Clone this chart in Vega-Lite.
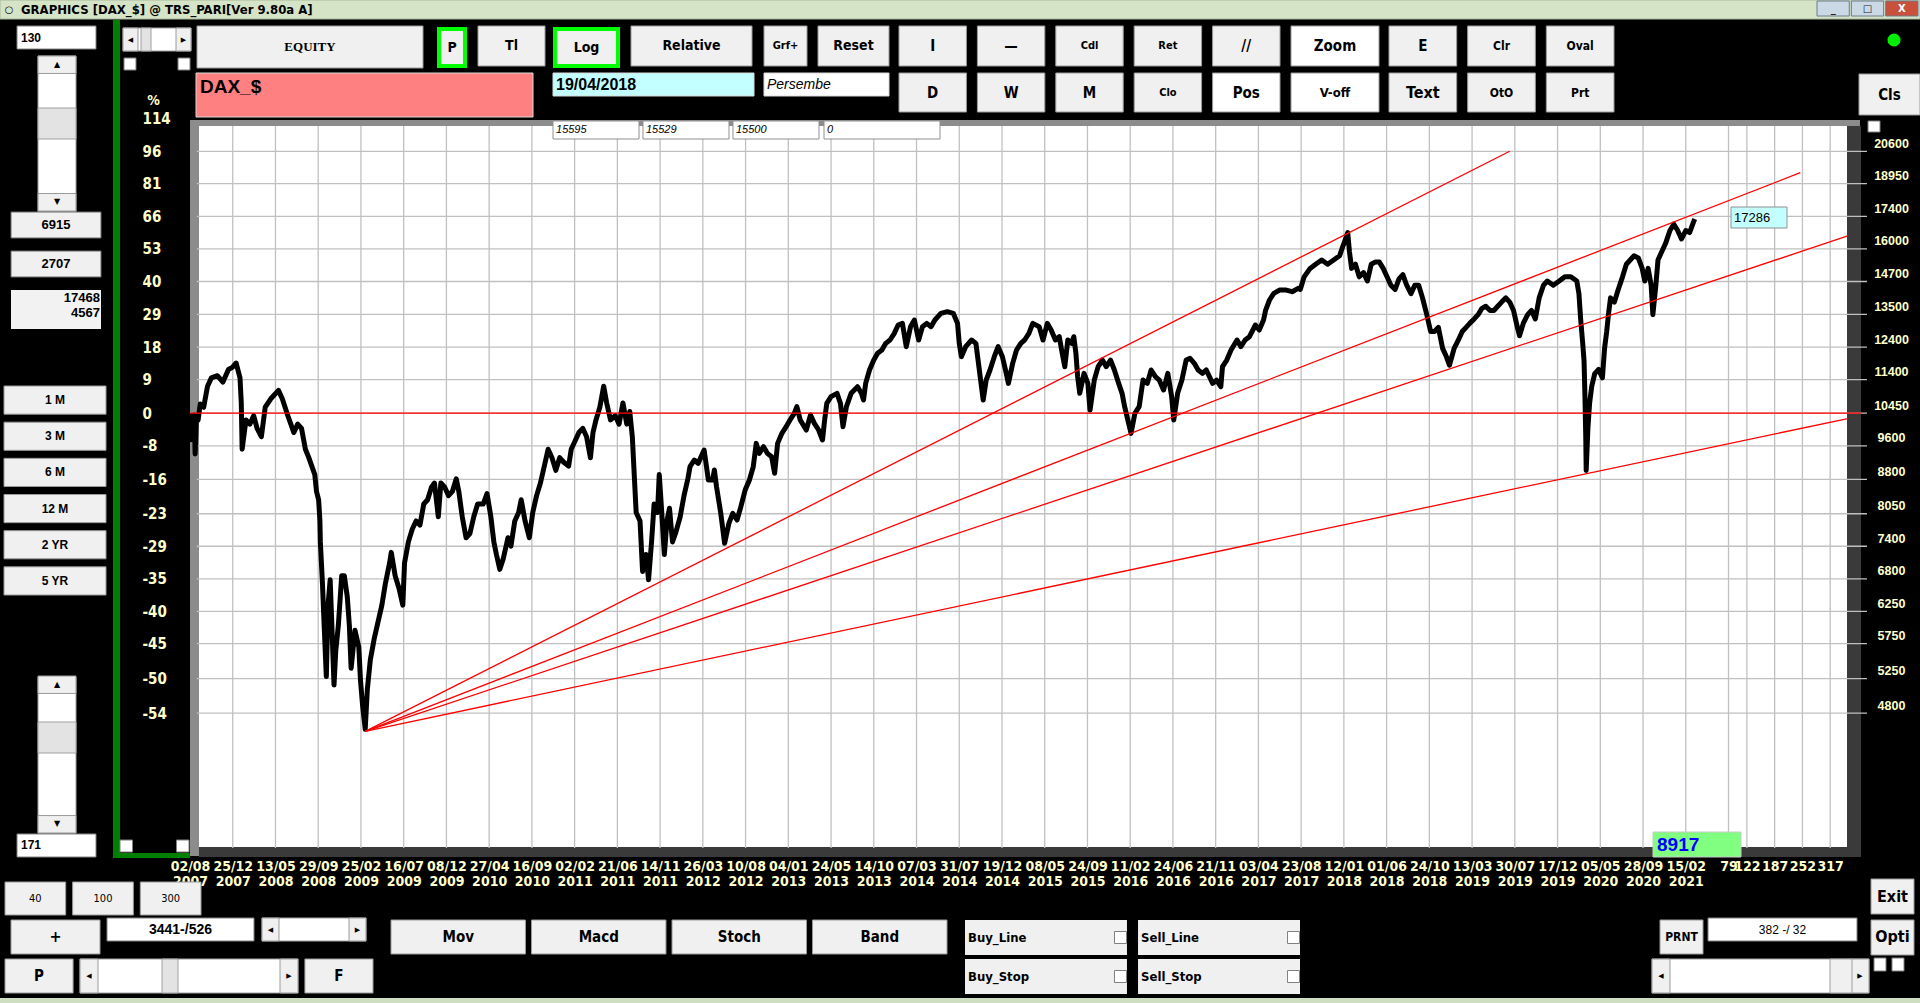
{
"$schema": "https://vega.github.io/schema/vega-lite/v6.json",
"width": 1920, "height": 1003, "autosize": "none", "padding": 0,
"background": "#000000",
"config": {
  "view": {"stroke": null},
  "rect": {"fill": "#f0f0f0", "stroke": "#9a9a9a", "strokeWidth": 1},
  "text": {"font": "Liberation Sans Narrow, Arial Narrow, DejaVu Sans Condensed, sans-serif", "fontWeight": "bold", "fontSize": 14, "color": "#000000"}
},
"resolve": {"scale": {"x": "independent", "y": "independent"}},
"datasets": {
  "series": [
    {"bar":0,"price":10450},{"bar":2,"price":9750},{"bar":4,"price":10250},{"bar":7,"price":9900},{"bar":10,"price":10400},{"bar":12,"price":9400},{"bar":15,"price":10300},{"bar":19,"price":10267},{"bar":24,"price":10700},{"bar":32,"price":10611},{"bar":41,"price":11205},{"bar":50,"price":11451},{"bar":64,"price":11514},{"bar":77,"price":11327},{"bar":90,"price":11703},{"bar":99,"price":11767},{"bar":108,"price":11899},{"bar":117,"price":11451},{"bar":120,"price":10728},{"bar":122,"price":9515},{"bar":131,"price":10267},{"bar":140,"price":10156},{"bar":149,"price":10380},{"bar":157,"price":10046},{"bar":167,"price":9830},{"bar":176,"price":10611},{"bar":189,"price":10845},{"bar":207,"price":11084},{"bar":216,"price":10845},{"bar":229,"price":10380},{"bar":243,"price":9937},{"bar":252,"price":10156},{"bar":261,"price":10046},{"bar":270,"price":9515},{"bar":278,"price":9310},{"bar":292,"price":8910},{"bar":296,"price":8530},{"bar":301,"price":8347},{"bar":304,"price":7902},{"bar":305,"price":7484},{"bar":310,"price":6710},{"bar":314,"price":6016},{"bar":319,"price":5278},{"bar":323,"price":6353},{"bar":328,"price":6783},{"bar":332,"price":6016},{"bar":337,"price":5164},{"bar":341,"price":5636},{"bar":347,"price":6016},{"bar":355,"price":6857},{"bar":361,"price":6857},{"bar":368,"price":6494},{"bar":373,"price":6016},{"bar":377,"price":5394},{"bar":386,"price":5951},{"bar":395,"price":5697},{"bar":399,"price":5220},{"bar":404,"price":4889},{"bar":410,"price":4605},{"bar":415,"price":5108},{"bar":422,"price":5513},{"bar":431,"price":5822},{"bar":440,"price":6082},{"bar":449,"price":6353},{"bar":457,"price":6710},{"bar":467,"price":7085},{"bar":471,"price":7283},{"bar":480,"price":6857},{"bar":489,"price":6637},{"bar":498,"price":6353},{"bar":502,"price":7085},{"bar":511,"price":7484},{"bar":520,"price":7732},{"bar":529,"price":7902},{"bar":538,"price":7817},{"bar":547,"price":8256},{"bar":556,"price":8347},{"bar":565,"price":8624},{"bar":572,"price":8718},{"bar":581,"price":7989},{"bar":587,"price":8718},{"bar":596,"price":8624},{"bar":605,"price":8438},{"bar":614,"price":8530},{"bar":623,"price":8814},{"bar":629,"price":8530},{"bar":637,"price":7989},{"bar":646,"price":7565},{"bar":655,"price":7648},{"bar":664,"price":7989},{"bar":673,"price":8256},{"bar":686,"price":8256},{"bar":695,"price":8484},{"bar":704,"price":7989},{"bar":711,"price":7484},{"bar":717,"price":7243},{"bar":725,"price":6970},{"bar":733,"price":7163},{"bar":744,"price":7565},{"bar":751,"price":7403},{"bar":760,"price":7902},{"bar":769,"price":8076},{"bar":775,"price":8347},{"bar":784,"price":7902},{"bar":794,"price":7565},{"bar":802,"price":8076},{"bar":811,"price":8438},{"bar":820,"price":8718},{"bar":829,"price":9107},{"bar":838,"price":9515},{"bar":847,"price":9310},{"bar":856,"price":9008},{"bar":865,"price":9310},{"bar":874,"price":9207},{"bar":886,"price":9107},{"bar":892,"price":9515},{"bar":901,"price":9723},{"bar":910,"price":9937},{"bar":919,"price":10046},{"bar":928,"price":9830},{"bar":937,"price":9310},{"bar":943,"price":9937},{"bar":950,"price":10267},{"bar":959,"price":10611},{"bar":968,"price":11205},{"bar":975,"price":10728},{"bar":984,"price":10267},{"bar":995,"price":10380},{"bar":1004,"price":10156},{"bar":1013,"price":10728},{"bar":1022,"price":10156},{"bar":1029,"price":10495},{"bar":1035,"price":9830},{"bar":1040,"price":8814},{"bar":1044,"price":8076},{"bar":1053,"price":7902},{"bar":1059,"price":6933},{"bar":1067,"price":7243},{"bar":1073,"price":6783},{"bar":1080,"price":7484},{"bar":1086,"price":8256},{"bar":1094,"price":8076},{"bar":1098,"price":8910},{"bar":1102,"price":8347},{"bar":1110,"price":7243},{"bar":1116,"price":7902},{"bar":1122,"price":8166},{"bar":1129,"price":7484},{"bar":1136,"price":7648},{"bar":1147,"price":7989},{"bar":1156,"price":8438},{"bar":1165,"price":8814},
    {"bar":1170,"price":9095},{"bar":1180,"price":9254},{"bar":1189,"price":9174},{"bar":1203,"price":9497},{"bar":1213,"price":8786},{"bar":1223,"price":8786},{"bar":1227,"price":9017},{"bar":1232,"price":8636},{"bar":1242,"price":8059},{"bar":1251,"price":7456},{"bar":1261,"price":7853},{"bar":1270,"price":8059},{"bar":1280,"price":7921},{"bar":1289,"price":8200},{"bar":1299,"price":8561},{"bar":1309,"price":8786},{"bar":1318,"price":9095},{"bar":1325,"price":9662},{"bar":1332,"price":9415},{"bar":1342,"price":9579},{"bar":1351,"price":9415},{"bar":1361,"price":9334},{"bar":1368,"price":8940},{"bar":1375,"price":9662},{"bar":1385,"price":9916},{"bar":1395,"price":10089},{"bar":1404,"price":10265},{"bar":1414,"price":10444},{"bar":1420,"price":10626},{"bar":1428,"price":10265},{"bar":1442,"price":10002},{"bar":1452,"price":10399},{"bar":1461,"price":10177},{"bar":1471,"price":10002},{"bar":1480,"price":9746},{"bar":1485,"price":10265},{"bar":1490,"price":10718},{"bar":1500,"price":10905},{"bar":1514,"price":11000},{"bar":1522,"price":10718},{"bar":1528,"price":10089},{"bar":1536,"price":10626},{"bar":1547,"price":11000},{"bar":1562,"price":11191},{"bar":1571,"price":11000},{"bar":1576,"price":10811},{"bar":1581,"price":11288},{"bar":1590,"price":11686},{"bar":1600,"price":11992},{"bar":1609,"price":12202},{"bar":1619,"price":12307},{"bar":1628,"price":12522},{"bar":1638,"price":12631},{"bar":1648,"price":12851},{"bar":1657,"price":13132},{"bar":1667,"price":13188},{"bar":1676,"price":12414},{"bar":1686,"price":13075},{"bar":1695,"price":13303},{"bar":1705,"price":12631},{"bar":1714,"price":13075},{"bar":1724,"price":13188},{"bar":1734,"price":13075},{"bar":1743,"price":13303},{"bar":1757,"price":13535},{"bar":1772,"price":13594},{"bar":1786,"price":13535},{"bar":1796,"price":13188},{"bar":1800,"price":12522},{"bar":1805,"price":12096},{"bar":1815,"price":12414},{"bar":1829,"price":12631},{"bar":1839,"price":12522},{"bar":1848,"price":11585},{"bar":1856,"price":10811},{"bar":1863,"price":11386},{"bar":1872,"price":11686},{"bar":1882,"price":12096},{"bar":1891,"price":12414},{"bar":1901,"price":12096},{"bar":1910,"price":11585},{"bar":1915,"price":11288},{"bar":1925,"price":11889},{"bar":1934,"price":12307},{"bar":1944,"price":12522},{"bar":1953,"price":12631},{"bar":1963,"price":12851},{"bar":1972,"price":13188},{"bar":1987,"price":13075},{"bar":1996,"price":12631},{"bar":2006,"price":13188},{"bar":2015,"price":12962},{"bar":2025,"price":12631},{"bar":2034,"price":12740},{"bar":2041,"price":12202},{"bar":2047,"price":11787},{"bar":2054,"price":12631},{"bar":2063,"price":12522},{"bar":2068,"price":12740},{"bar":2073,"price":12202},{"bar":2077,"price":11485},{"bar":2082,"price":11000},{"bar":2092,"price":11585},{"bar":2101,"price":11288},{"bar":2106,"price":10534},{"bar":2116,"price":11386},{"bar":2125,"price":11787},{"bar":2135,"price":11992},{"bar":2144,"price":11787},{"bar":2154,"price":11992},{"bar":2163,"price":11686},{"bar":2173,"price":11288},{"bar":2181,"price":11000},{"bar":2187,"price":10626},{"bar":2202,"price":9916},{"bar":2211,"price":10444},{"bar":2221,"price":10626},{"bar":2230,"price":11386},{"bar":2240,"price":11288},{"bar":2249,"price":11686},{"bar":2259,"price":11485},{"bar":2268,"price":11386},{"bar":2278,"price":11095},{"bar":2288,"price":11585},{"bar":2297,"price":10905},{"bar":2302,"price":10265},{"bar":2311,"price":11000},{"bar":2321,"price":11386},{"bar":2331,"price":11992},{"bar":2340,"price":12044},{"bar":2350,"price":11889},{"bar":2359,"price":11686},{"bar":2369,"price":11585},{"bar":2378,"price":11686},{"bar":2393,"price":11288},{"bar":2402,"price":11386},{"bar":2412,"price":11191},{"bar":2416,"price":11787},{"bar":2426,"price":11992},{"bar":2436,"price":12307},{"bar":2450,"price":12631},{"bar":2459,"price":12414},{"bar":2469,"price":12631},{"bar":2479,"price":12740},{"bar":2493,"price":13132},{"bar":2502,"price":12962},{"bar":2512,"price":13303},{"bar":2517,"price":13652},{"bar":2526,"price":14011},{"bar":2536,"price":14255},{"bar":2550,"price":14378},{"bar":2565,"price":14378},{"bar":2579,"price":14316},{"bar":2593,"price":14441},
    {"bar":2598,"price":14400},{"bar":2607,"price":14879},{"bar":2621,"price":15208},{"bar":2634,"price":15374},{"bar":2648,"price":15543},{"bar":2662,"price":15374},{"bar":2676,"price":15543},{"bar":2690,"price":15713},{"bar":2695,"price":15973},{"bar":2704,"price":16415},{"bar":2709,"price":16686},{"bar":2713,"price":15886},{"bar":2718,"price":15208},{"bar":2727,"price":15374},{"bar":2736,"price":14879},{"bar":2746,"price":15042},{"bar":2755,"price":14718},{"bar":2764,"price":15374},{"bar":2773,"price":15458},{"bar":2783,"price":15458},{"bar":2792,"price":15208},{"bar":2801,"price":14879},{"bar":2810,"price":14558},{"bar":2820,"price":14400},{"bar":2829,"price":14798},{"bar":2838,"price":14961},{"bar":2847,"price":14558},{"bar":2857,"price":14244},{"bar":2866,"price":14558},{"bar":2875,"price":14558},{"bar":2884,"price":14089},{"bar":2894,"price":13488},{"bar":2903,"price":12912},{"bar":2912,"price":12912},{"bar":2921,"price":13053},{"bar":2931,"price":12360},{"bar":2940,"price":12093},{"bar":2947,"price":11832},{"bar":2958,"price":12360},{"bar":2968,"price":12633},{"bar":2977,"price":12912},{"bar":2986,"price":13053},{"bar":2995,"price":13196},{"bar":3005,"price":13341},{"bar":3014,"price":13488},{"bar":3023,"price":13710},{"bar":3032,"price":13785},{"bar":3042,"price":13636},{"bar":3051,"price":13636},{"bar":3060,"price":13785},{"bar":3069,"price":13936},{"bar":3079,"price":14089},{"bar":3088,"price":13936},{"bar":3097,"price":13636},{"bar":3106,"price":13053},{"bar":3111,"price":12772},{"bar":3120,"price":13196},{"bar":3130,"price":13488},{"bar":3139,"price":13636},{"bar":3148,"price":13341},{"bar":3157,"price":14089},{"bar":3167,"price":14558},{"bar":3176,"price":14718},{"bar":3190,"price":14558},{"bar":3204,"price":14718},{"bar":3217,"price":14879},{"bar":3231,"price":14879},{"bar":3245,"price":14718},{"bar":3250,"price":14244},{"bar":3254,"price":13341},{"bar":3259,"price":12496},{"bar":3262,"price":11962},{"bar":3264,"price":10962},{"bar":3266,"price":9829},{"bar":3267,"price":9007},{"bar":3271,"price":10046},{"bar":3275,"price":10725},{"bar":3280,"price":11204},{"bar":3287,"price":11577},{"bar":3296,"price":11704},{"bar":3305,"price":11451},{"bar":3310,"price":12360},{"bar":3315,"price":12912},{"bar":3319,"price":13488},{"bar":3324,"price":14089},{"bar":3333,"price":13936},{"bar":3342,"price":14400},{"bar":3352,"price":14879},{"bar":3361,"price":15374},{"bar":3370,"price":15543},{"bar":3379,"price":15713},{"bar":3389,"price":15628},{"bar":3398,"price":15208},{"bar":3404,"price":14718},{"bar":3412,"price":15208},{"bar":3419,"price":14558},{"bar":3423,"price":13488},{"bar":3430,"price":14558},{"bar":3435,"price":15543},{"bar":3444,"price":15886},{"bar":3453,"price":16237},{"bar":3463,"price":16777},{"bar":3472,"price":17054},{"bar":3481,"price":16777},{"bar":3490,"price":16415},{"bar":3500,"price":16777},{"bar":3509,"price":16686},{"bar":3518,"price":17147},{"bar":3521,"price":17286}
  ],
  "trend": [
    {"line":"a","bar":410,"price":4580},{"line":"a","bar":3088,"price":20606},
    {"line":"b","bar":410,"price":4580},{"line":"b","bar":3768,"price":19489},
    {"line":"c","bar":410,"price":4580},{"line":"c","bar":3879,"price":16544},
    {"line":"d","bar":410,"price":4580},{"line":"d","bar":3879,"price":10304}
  ],
  "vgrid": [{"bar":100},{"bar":200},{"bar":300},{"bar":400},{"bar":500},{"bar":600},{"bar":700},{"bar":800},{"bar":900},{"bar":1000},{"bar":1100},{"bar":1200},{"bar":1300},{"bar":1400},{"bar":1500},{"bar":1600},{"bar":1700},{"bar":1800},{"bar":1900},{"bar":2000},{"bar":2100},{"bar":2200},{"bar":2300},{"bar":2400},{"bar":2500},{"bar":2600},{"bar":2700},{"bar":2800},{"bar":2900},{"bar":3000},{"bar":3100},{"bar":3200},{"bar":3300},{"bar":3400},{"bar":3500},{"bar":3600},{"bar":3643},{"bar":3708},{"bar":3773},{"bar":3838}],
  "hgrid": [{"price":4800},{"price":5250},{"price":5750},{"price":6250},{"price":6800},{"price":7400},{"price":8050},{"price":8800},{"price":9600},{"price":10450},{"price":11400},{"price":12400},{"price":13500},{"price":14700},{"price":16000},{"price":17400},{"price":18950},{"price":20600}]
},
"layer": [
  {"data":{"values":[{"label":"t"}]},"encoding":{"x":{"field":"label","type":"nominal","axis":null,"scale":{"type":"band","range":[0,1920],"paddingInner":0,"paddingOuter":0}},"y":{"datum":"r","type":"nominal","axis":null,"scale":{"type":"band","range":[0,19],"paddingInner":0,"paddingOuter":0}}},"mark":{"type":"rect","fill":"#d5e3c7","stroke":"#a9b99c"}},
  {"data":{"values":[{"label":"○"}]},"encoding":{"x":{"field":"label","type":"nominal","axis":null,"scale":{"type":"band","range":[9,9],"paddingInner":0,"paddingOuter":0}},"y":{"datum":"r","type":"nominal","axis":null,"scale":{"type":"band","range":[0,19],"paddingInner":0,"paddingOuter":0}},"text":{"field":"label"}},"mark":{"type":"text","font":"DejaVu Sans, sans-serif","fontWeight":"normal","fontSize":10}},
  {"data":{"values":[{"label":"GRAPHICS  [DAX_$] @ TRS_PARI[Ver 9.80a A]"}]},"encoding":{"x":{"field":"label","type":"nominal","axis":null,"scale":{"type":"band","range":[21,21],"paddingInner":0,"paddingOuter":0}},"y":{"datum":"r","type":"nominal","axis":null,"scale":{"type":"band","range":[0,20],"paddingInner":0,"paddingOuter":0}},"text":{"field":"label"}},"mark":{"type":"text","align":"left","fontSize":13}},
  {"data":{"values":[{"label":"_"},{"label":"□"},{"label":"X"}]},"encoding":{"x":{"field":"label","type":"nominal","sort":null,"axis":null,"scale":{"type":"band","range":[1817,1918],"paddingInner":0.06,"paddingOuter":0}},"y":{"datum":"r","type":"nominal","axis":null,"scale":{"type":"band","range":[1,16],"paddingInner":0,"paddingOuter":0}}},"layer":[{"mark":{"type":"rect","stroke":"#6d7c8c"},"encoding":{"fill":{"condition":{"test":"datum.label == 'X'","value":"#c8503c"},"value":"#cbd8e6"}}},{"mark":{"type":"text","font":"DejaVu Sans, sans-serif","fontSize":10},"encoding":{"text":{"field":"label"},"fill":{"condition":{"test":"datum.label == 'X'","value":"#ffffff"},"value":"#222222"}}}]},
  {"data":{"values":[{"label":"t"}]},"encoding":{"x":{"field":"label","type":"nominal","axis":null,"scale":{"type":"band","range":[0,1920],"paddingInner":0,"paddingOuter":0}},"y":{"datum":"r","type":"nominal","axis":null,"scale":{"type":"band","range":[998,1003],"paddingInner":0,"paddingOuter":0}}},"mark":{"type":"rect","fill":"#cddfc0","strokeWidth":0}},

  {"data":{"values":[{"label":"130"},{"label":"171"}]},"encoding":{"x":{"datum":"c","type":"nominal","axis":null,"scale":{"type":"band","range":[17,96],"paddingInner":0,"paddingOuter":0}},"y":{"field":"label","type":"nominal","sort":null,"axis":null,"scale":{"type":"band","range":[26,857],"paddingInner":0.9715,"paddingOuter":0}}},"layer":[{"mark":{"type":"rect","fill":"#ffffff","stroke":"#808080"}},{"mark":{"type":"text","align":"left","dx":-35.5,"fontSize":12,"font":"Liberation Sans, Arial, sans-serif"},"encoding":{"text":{"field":"label"}}}]},
  {"data":{"values":[{"label":"u"},{"label":"d"}]},"encoding":{"x":{"datum":"c","type":"nominal","axis":null,"scale":{"type":"band","range":[38,76],"paddingInner":0,"paddingOuter":0}},"y":{"field":"label","type":"nominal","sort":null,"axis":null,"scale":{"type":"band","range":[56,833],"paddingInner":0.749,"paddingOuter":0}}},"mark":{"type":"rect","fill":"#ffffff","stroke":"#a0a0a0"}},
  {"data":{"values":[{"label":"u"},{"label":"d"}]},"encoding":{"x":{"datum":"c","type":"nominal","axis":null,"scale":{"type":"band","range":[38,76],"paddingInner":0,"paddingOuter":0}},"y":{"field":"label","type":"nominal","sort":null,"axis":null,"scale":{"type":"band","range":[108,753],"paddingInner":0.9495,"paddingOuter":0}}},"mark":{"type":"rect","fill":"#e3e3e3","stroke":"#a0a0a0"}},
  {"data":{"values":[{"label":"▲"},{"label":"▼"}]},"encoding":{"x":{"datum":"c","type":"nominal","axis":null,"scale":{"type":"band","range":[38,76],"paddingInner":0,"paddingOuter":0}},"y":{"field":"label","type":"nominal","sort":null,"axis":null,"scale":{"type":"band","range":[56,211],"paddingInner":0.873,"paddingOuter":0}}},"layer":[{"mark":{"type":"rect"}},{"mark":{"type":"text","font":"DejaVu Sans, sans-serif","fontSize":8},"encoding":{"text":{"field":"label"}}}]},
  {"data":{"values":[{"label":"▲"},{"label":"▼"}]},"encoding":{"x":{"datum":"c","type":"nominal","axis":null,"scale":{"type":"band","range":[38,76],"paddingInner":0,"paddingOuter":0}},"y":{"field":"label","type":"nominal","sort":null,"axis":null,"scale":{"type":"band","range":[676,833],"paddingInner":0.875,"paddingOuter":0}}},"layer":[{"mark":{"type":"rect"}},{"mark":{"type":"text","font":"DejaVu Sans, sans-serif","fontSize":8},"encoding":{"text":{"field":"label"}}}]},
  {"data":{"values":[{"label":"6915"},{"label":"2707"}]},"encoding":{"x":{"datum":"c","type":"nominal","axis":null,"scale":{"type":"band","range":[11,101],"paddingInner":0,"paddingOuter":0}},"y":{"field":"label","type":"nominal","sort":null,"axis":null,"scale":{"type":"band","range":[212,277],"paddingInner":0.333,"paddingOuter":0}}},"layer":[{"mark":{"type":"rect","stroke":"#6a6a6a"}},{"mark":{"type":"text","font":"Liberation Sans, Arial, sans-serif","fontSize":13},"encoding":{"text":{"field":"label"}}}]},
  {"data":{"values":[{"label":"17468\n4567"}]},"encoding":{"x":{"field":"label","type":"nominal","axis":null,"scale":{"type":"band","range":[11,101],"paddingInner":0,"paddingOuter":0}},"y":{"datum":"r","type":"nominal","axis":null,"scale":{"type":"band","range":[290,329],"paddingInner":0,"paddingOuter":0}}},"layer":[{"mark":{"type":"rect","fill":"#f2f2f2","strokeWidth":0}},{"mark":{"type":"text","align":"right","dx":44,"dy":-12,"lineBreak":"\n","lineHeight":15,"font":"Liberation Sans, Arial, sans-serif","fontSize":13},"encoding":{"text":{"field":"label"}}}]},
  {"data":{"values":[{"label":"1 M"},{"label":"3 M"},{"label":"6 M"},{"label":"12 M"},{"label":"2 YR"},{"label":"5 YR"}]},"encoding":{"x":{"datum":"c","type":"nominal","axis":null,"scale":{"type":"band","range":[4,106],"paddingInner":0,"paddingOuter":0}},"y":{"field":"label","type":"nominal","sort":null,"axis":null,"scale":{"type":"band","range":[386,595],"paddingInner":0.222,"paddingOuter":0}}},"layer":[{"mark":{"type":"rect"}},{"mark":{"type":"text","font":"Liberation Sans, Arial, sans-serif","fontSize":12},"encoding":{"text":{"field":"label"}}}]},

  {"data":{"values":[{"label":"g"}]},"encoding":{"x":{"field":"label","type":"nominal","axis":null,"scale":{"type":"band","range":[113,120],"paddingInner":0,"paddingOuter":0}},"y":{"datum":"r","type":"nominal","axis":null,"scale":{"type":"band","range":[20,858],"paddingInner":0,"paddingOuter":0}}},"mark":{"type":"rect","fill":"#008000","strokeWidth":0}},
  {"data":{"values":[{"label":"g"}]},"encoding":{"x":{"field":"label","type":"nominal","axis":null,"scale":{"type":"band","range":[113,190],"paddingInner":0,"paddingOuter":0}},"y":{"datum":"r","type":"nominal","axis":null,"scale":{"type":"band","range":[853,858],"paddingInner":0,"paddingOuter":0}}},"mark":{"type":"rect","fill":"#008000","strokeWidth":0}},
  {"data":{"values":[{"label":"s"}]},"encoding":{"x":{"field":"label","type":"nominal","axis":null,"scale":{"type":"band","range":[123,191],"paddingInner":0,"paddingOuter":0}},"y":{"datum":"r","type":"nominal","axis":null,"scale":{"type":"band","range":[28,51],"paddingInner":0,"paddingOuter":0}}},"mark":{"type":"rect","fill":"#ffffff","stroke":"#a0a0a0"}},
  {"data":{"values":[{"label":"◀"},{"label":"▶"}]},"encoding":{"x":{"field":"label","type":"nominal","sort":null,"axis":null,"scale":{"type":"band","range":[123,191],"paddingInner":0.717,"paddingOuter":0}},"y":{"datum":"r","type":"nominal","axis":null,"scale":{"type":"band","range":[28,51],"paddingInner":0,"paddingOuter":0}}},"layer":[{"mark":{"type":"rect"}},{"mark":{"type":"text","font":"DejaVu Sans, sans-serif","fontSize":7},"encoding":{"text":{"field":"label"}}}]},
  {"data":{"values":[{"label":"s"}]},"encoding":{"x":{"field":"label","type":"nominal","axis":null,"scale":{"type":"band","range":[141,151],"paddingInner":0,"paddingOuter":0}},"y":{"datum":"r","type":"nominal","axis":null,"scale":{"type":"band","range":[28,51],"paddingInner":0,"paddingOuter":0}}},"mark":{"type":"rect","fill":"#e3e3e3","stroke":"#a0a0a0"}},
  {"data":{"values":[{"label":"a"},{"label":"b"}]},"encoding":{"x":{"field":"label","type":"nominal","sort":null,"axis":null,"scale":{"type":"band","range":[124,190],"paddingInner":0.778,"paddingOuter":0}},"y":{"datum":"r","type":"nominal","axis":null,"scale":{"type":"band","range":[58,70],"paddingInner":0,"paddingOuter":0}}},"mark":{"type":"rect","fill":"#ffffff","stroke":"#808080"}},
  {"data":{"values":[{"label":"a"},{"label":"b"}]},"encoding":{"x":{"field":"label","type":"nominal","sort":null,"axis":null,"scale":{"type":"band","range":[120,189],"paddingInner":0.779,"paddingOuter":0}},"y":{"datum":"r","type":"nominal","axis":null,"scale":{"type":"band","range":[840,852],"paddingInner":0,"paddingOuter":0}}},"mark":{"type":"rect","fill":"#ffffff","stroke":"#808080"}},

  {"data":{"values":[{"label":"EQUITY"}]},"encoding":{"x":{"field":"label","type":"nominal","axis":null,"scale":{"type":"band","range":[197,423],"paddingInner":0,"paddingOuter":0}},"y":{"datum":"r","type":"nominal","axis":null,"scale":{"type":"band","range":[26,68],"paddingInner":0,"paddingOuter":0}}},"layer":[{"mark":{"type":"rect"}},{"mark":{"type":"text","font":"Liberation Serif, Times New Roman, serif","fontSize":13},"encoding":{"text":{"field":"label"}}}]},
  {"data":{"values":[{"label":"P"}]},"encoding":{"x":{"field":"label","type":"nominal","axis":null,"scale":{"type":"band","range":[439,465],"paddingInner":0,"paddingOuter":0}},"y":{"datum":"r","type":"nominal","axis":null,"scale":{"type":"band","range":[29,66],"paddingInner":0,"paddingOuter":0}}},"layer":[{"mark":{"type":"rect","stroke":"#00ff00","strokeWidth":4}},{"mark":{"type":"text"},"encoding":{"text":{"field":"label"}}}]},
  {"data":{"values":[{"label":"Tl"}]},"encoding":{"x":{"field":"label","type":"nominal","axis":null,"scale":{"type":"band","range":[478,545],"paddingInner":0,"paddingOuter":0}},"y":{"datum":"r","type":"nominal","axis":null,"scale":{"type":"band","range":[26,66],"paddingInner":0,"paddingOuter":0}}},"layer":[{"mark":{"type":"rect"}},{"mark":{"type":"text"},"encoding":{"text":{"field":"label"}}}]},
  {"data":{"values":[{"label":"Log"}]},"encoding":{"x":{"field":"label","type":"nominal","axis":null,"scale":{"type":"band","range":[555,618],"paddingInner":0,"paddingOuter":0}},"y":{"datum":"r","type":"nominal","axis":null,"scale":{"type":"band","range":[29,66],"paddingInner":0,"paddingOuter":0}}},"layer":[{"mark":{"type":"rect","stroke":"#00ff00","strokeWidth":4}},{"mark":{"type":"text"},"encoding":{"text":{"field":"label"}}}]},
  {"data":{"values":[{"label":"Relative"}]},"encoding":{"x":{"field":"label","type":"nominal","axis":null,"scale":{"type":"band","range":[631,752],"paddingInner":0,"paddingOuter":0}},"y":{"datum":"r","type":"nominal","axis":null,"scale":{"type":"band","range":[26,66],"paddingInner":0,"paddingOuter":0}}},"layer":[{"mark":{"type":"rect"}},{"mark":{"type":"text"},"encoding":{"text":{"field":"label"}}}]},
  {"data":{"values":[{"label":"Grf+"}]},"encoding":{"x":{"field":"label","type":"nominal","axis":null,"scale":{"type":"band","range":[764,807],"paddingInner":0,"paddingOuter":0}},"y":{"datum":"r","type":"nominal","axis":null,"scale":{"type":"band","range":[26,66],"paddingInner":0,"paddingOuter":0}}},"layer":[{"mark":{"type":"rect"}},{"mark":{"type":"text","fontSize":11},"encoding":{"text":{"field":"label"}}}]},
  {"data":{"values":[{"label":"Reset"}]},"encoding":{"x":{"field":"label","type":"nominal","axis":null,"scale":{"type":"band","range":[818,889],"paddingInner":0,"paddingOuter":0}},"y":{"datum":"r","type":"nominal","axis":null,"scale":{"type":"band","range":[26,66],"paddingInner":0,"paddingOuter":0}}},"layer":[{"mark":{"type":"rect"}},{"mark":{"type":"text"},"encoding":{"text":{"field":"label"}}}]},
  {"data":{"values":[{"label":"I"},{"label":"—"},{"label":"Cdl"},{"label":"Ret"},{"label":"//"}]},"encoding":{"x":{"field":"label","type":"nominal","sort":null,"axis":null,"scale":{"type":"band","range":[899,1280],"paddingInner":0.14,"paddingOuter":0}},"y":{"datum":"r","type":"nominal","axis":null,"scale":{"type":"band","range":[26,66],"paddingInner":0,"paddingOuter":0}}},"layer":[{"mark":{"type":"rect"}},{"mark":{"type":"text"},"encoding":{"text":{"field":"label"},"size":{"condition":{"test":"datum.label == 'Cdl' || datum.label == 'Ret'","value":11},"value":15}}}]},
  {"data":{"values":[{"label":"Zoom"}]},"encoding":{"x":{"field":"label","type":"nominal","axis":null,"scale":{"type":"band","range":[1291,1379],"paddingInner":0,"paddingOuter":0}},"y":{"datum":"r","type":"nominal","axis":null,"scale":{"type":"band","range":[26,66],"paddingInner":0,"paddingOuter":0}}},"layer":[{"mark":{"type":"rect","fill":"#ffffff"}},{"mark":{"type":"text","fontSize":15},"encoding":{"text":{"field":"label"}}}]},
  {"data":{"values":[{"label":"E"},{"label":"Clr"},{"label":"Oval"}]},"encoding":{"x":{"field":"label","type":"nominal","sort":null,"axis":null,"scale":{"type":"band","range":[1389,1614],"paddingInner":0.14,"paddingOuter":0}},"y":{"datum":"r","type":"nominal","axis":null,"scale":{"type":"band","range":[26,66],"paddingInner":0,"paddingOuter":0}}},"layer":[{"mark":{"type":"rect"}},{"mark":{"type":"text"},"encoding":{"text":{"field":"label"},"size":{"condition":{"test":"datum.label == 'E'","value":15},"value":12}}}]},
  {"data":{"values":[{"label":"D"},{"label":"W"},{"label":"M"},{"label":"Clo"},{"label":"Pos"}]},"encoding":{"x":{"field":"label","type":"nominal","sort":null,"axis":null,"scale":{"type":"band","range":[899,1280],"paddingInner":0.14,"paddingOuter":0}},"y":{"datum":"r","type":"nominal","axis":null,"scale":{"type":"band","range":[73,112],"paddingInner":0,"paddingOuter":0}}},"layer":[{"mark":{"type":"rect"},"encoding":{"fill":{"condition":{"test":"datum.label == 'Pos'","value":"#ffffff"},"value":"#f0f0f0"}}},{"mark":{"type":"text"},"encoding":{"text":{"field":"label"},"size":{"condition":{"test":"datum.label == 'Clo'","value":11},"value":15}}}]},
  {"data":{"values":[{"label":"V-off"}]},"encoding":{"x":{"field":"label","type":"nominal","axis":null,"scale":{"type":"band","range":[1291,1379],"paddingInner":0,"paddingOuter":0}},"y":{"datum":"r","type":"nominal","axis":null,"scale":{"type":"band","range":[73,112],"paddingInner":0,"paddingOuter":0}}},"layer":[{"mark":{"type":"rect","fill":"#ffffff"}},{"mark":{"type":"text","fontSize":13},"encoding":{"text":{"field":"label"}}}]},
  {"data":{"values":[{"label":"Text"},{"label":"OtO"},{"label":"Prt"}]},"encoding":{"x":{"field":"label","type":"nominal","sort":null,"axis":null,"scale":{"type":"band","range":[1389,1614],"paddingInner":0.14,"paddingOuter":0}},"y":{"datum":"r","type":"nominal","axis":null,"scale":{"type":"band","range":[73,112],"paddingInner":0,"paddingOuter":0}}},"layer":[{"mark":{"type":"rect"}},{"mark":{"type":"text"},"encoding":{"text":{"field":"label"},"size":{"condition":{"test":"datum.label == 'Text'","value":16},"value":12}}}]},
  {"data":{"values":[{"label":"DAX_$"}]},"encoding":{"x":{"field":"label","type":"nominal","axis":null,"scale":{"type":"band","range":[196,533],"paddingInner":0,"paddingOuter":0}},"y":{"datum":"r","type":"nominal","axis":null,"scale":{"type":"band","range":[73,117],"paddingInner":0,"paddingOuter":0}}},"layer":[{"mark":{"type":"rect","fill":"#ff8080","stroke":"#d8d8d8"}},{"mark":{"type":"text","align":"left","dx":-164.5,"dy":-8,"font":"Liberation Sans, Arial, sans-serif","fontSize":19},"encoding":{"text":{"field":"label"}}}]},
  {"data":{"values":[{"label":"19/04/2018"}]},"encoding":{"x":{"field":"label","type":"nominal","axis":null,"scale":{"type":"band","range":[553,754],"paddingInner":0,"paddingOuter":0}},"y":{"datum":"r","type":"nominal","axis":null,"scale":{"type":"band","range":[73,96],"paddingInner":0,"paddingOuter":0}}},"layer":[{"mark":{"type":"rect","fill":"#c4ffff","stroke":"#d8d8d8"}},{"mark":{"type":"text","align":"left","dx":-97.5,"font":"Liberation Sans, Arial, sans-serif","fontSize":16},"encoding":{"text":{"field":"label"}}}]},
  {"data":{"values":[{"label":"Persembe"}]},"encoding":{"x":{"field":"label","type":"nominal","axis":null,"scale":{"type":"band","range":[764,889],"paddingInner":0,"paddingOuter":0}},"y":{"datum":"r","type":"nominal","axis":null,"scale":{"type":"band","range":[73,96],"paddingInner":0,"paddingOuter":0}}},"layer":[{"mark":{"type":"rect","fill":"#ffffff","stroke":"#d8d8d8"}},{"mark":{"type":"text","align":"left","dx":-59.5,"font":"Liberation Sans, Arial, sans-serif","fontStyle":"italic","fontWeight":"normal","fontSize":14},"encoding":{"text":{"field":"label"}}}]},
  {"data":{"values":[{"label":"Cls"}]},"encoding":{"x":{"field":"label","type":"nominal","axis":null,"scale":{"type":"band","range":[1859,1920],"paddingInner":0,"paddingOuter":0}},"y":{"datum":"r","type":"nominal","axis":null,"scale":{"type":"band","range":[74,115],"paddingInner":0,"paddingOuter":0}}},"layer":[{"mark":{"type":"rect"}},{"mark":{"type":"text","fontSize":15},"encoding":{"text":{"field":"label"}}}]},
  {"data":{"values":[{"label":"on"}]},"encoding":{"x":{"field":"label","type":"nominal","axis":null,"scale":{"type":"band","range":[1887,1901],"paddingInner":0,"paddingOuter":0}},"y":{"datum":"r","type":"nominal","axis":null,"scale":{"type":"band","range":[31,49],"paddingInner":0,"paddingOuter":0}}},"mark":{"type":"point","shape":"circle","filled":true,"color":"#00ee00","opacity":1,"size":170}},
  {"data":{"values":[{"label":"c"}]},"encoding":{"x":{"field":"label","type":"nominal","axis":null,"scale":{"type":"band","range":[1868,1880],"paddingInner":0,"paddingOuter":0}},"y":{"datum":"r","type":"nominal","axis":null,"scale":{"type":"band","range":[121,132],"paddingInner":0,"paddingOuter":0}}},"mark":{"type":"rect","fill":"#ffffff","stroke":"#808080"}},

  {"data":{"values":[{"label":"f"}]},"encoding":{"x":{"field":"label","type":"nominal","axis":null,"scale":{"type":"band","range":[190,1860],"paddingInner":0,"paddingOuter":0}},"y":{"datum":"r","type":"nominal","axis":null,"scale":{"type":"band","range":[120,856],"paddingInner":0,"paddingOuter":0}}},"mark":{"type":"rect","fill":"#8c8c8c","strokeWidth":0}},
  {"data":{"values":[{"label":"f"}]},"encoding":{"x":{"field":"label","type":"nominal","axis":null,"scale":{"type":"band","range":[199,1861],"paddingInner":0,"paddingOuter":0}},"y":{"datum":"r","type":"nominal","axis":null,"scale":{"type":"band","range":[126,857],"paddingInner":0,"paddingOuter":0}}},"mark":{"type":"rect","fill":"#3a3a3a","strokeWidth":0}},
  {"data":{"values":[{"label":"f"}]},"encoding":{"x":{"field":"label","type":"nominal","axis":null,"scale":{"type":"band","range":[199,1847],"paddingInner":0,"paddingOuter":0}},"y":{"datum":"r","type":"nominal","axis":null,"scale":{"type":"band","range":[126,847],"paddingInner":0,"paddingOuter":0}}},"mark":{"type":"rect","fill":"#ffffff","strokeWidth":0}},

  {"data":{"name":"hgrid"},"mark":{"type":"rule","color":"#c0c0c0","strokeWidth":1.3},
   "encoding":{
     "y":{"field":"price","type":"quantitative","scale":{"type":"log","domain":[3340,22500],"range":[853.1,117.3],"nice":false},
          "axis":{"orient":"right","offset":-65,"values":[4800,5250,5750,6250,6800,7400,8050,8800,9600,10450,11400,12400,13500,14700,16000,17400,18950,20600],"labelExpr":"format(datum.value, 'd')","grid":false,"ticks":false,"tickSize":0,"domain":false,"title":null,"labelAlign":"center","labelPadding":36,"labelBaseline":"alphabetic","labelOffset":-4,"labelFont":"Liberation Sans, Arial, sans-serif","labelFontSize":12.5,"labelFontWeight":"bold","labelColor":"#ffffcc","labelOverlap":false,"labelBound":false}},
     "x":{"datum":16,"type":"quantitative","scale":{"type":"linear","domain":[0,3896],"range":[190,1855],"nice":false,"zero":false},"axis":null},
     "x2":{"datum":3924}}},
  {"data":{"name":"vgrid"},"mark":{"type":"rule","color":"#c0c0c0","strokeWidth":1.3},
   "encoding":{
     "x":{"field":"bar","type":"quantitative","scale":{"type":"linear","domain":[0,3896],"range":[190,1855],"nice":false,"zero":false},
          "axis":{"orient":"bottom","offset":-150,"values":[0,100,200,300,400,500,600,700,800,900,1000,1100,1200,1300,1400,1500,1600,1700,1800,1900,2000,2100,2200,2300,2400,2500,2600,2700,2800,2900,3000,3100,3200,3300,3400,3500,3600,3643,3708,3773,3838],
                  "labelExpr":"datum.value <= 3500 ? [['02/08','25/12','13/05','29/09','25/02','16/07','08/12','27/04','16/09','02/02','21/06','14/11','26/03','10/08','04/01','24/05','14/10','07/03','31/07','19/12','08/05','24/09','11/02','24/06','21/11','03/04','23/08','12/01','01/06','24/10','13/03','30/07','17/12','05/05','28/09','15/02'][round(datum.value/100)], ['2007','2007','2008','2008','2009','2009','2009','2010','2010','2011','2011','2011','2012','2012','2013','2013','2013','2014','2014','2014','2015','2015','2016','2016','2016','2017','2017','2018','2018','2018','2019','2019','2019','2020','2020','2021'][round(datum.value/100)]] : '' + (datum.value - 3521)",
                  "grid":false,"ticks":false,"tickSize":0,"domain":false,"title":null,"labelFont":"Liberation Sans Narrow, Arial Narrow, DejaVu Sans Condensed, sans-serif","labelFontSize":14,"labelFontWeight":"bold","labelColor":"#ffffcc","labelPadding":6,"labelBaseline":"top","labelLineHeight":15.5,"labelOverlap":false,"labelFlush":false,"labelBound":false}},
     "y":{"datum":22000,"type":"quantitative","scale":{"type":"log","domain":[3340,22500],"range":[853.1,117.3],"nice":false},"axis":null},
     "y2":{"datum":3384}}},
  {"data":{"name":"series"},"mark":{"type":"line","color":"#000000","strokeWidth":5,"strokeJoin":"round"},
   "encoding":{
     "x":{"field":"bar","type":"quantitative","scale":{"type":"linear","domain":[0,3896],"range":[190,1855],"nice":false,"zero":false},"axis":null},
     "y":{"field":"price","type":"quantitative","scale":{"type":"log","domain":[3340,22500],"range":[853.1,117.3],"nice":false},"axis":null}}},
  {"data":{"name":"trend"},"mark":{"type":"line","color":"#ff0000","strokeWidth":1.3},
   "encoding":{
     "x":{"field":"bar","type":"quantitative","scale":{"type":"linear","domain":[0,3896],"range":[190,1855],"nice":false,"zero":false},"axis":null},
     "y":{"field":"price","type":"quantitative","scale":{"type":"log","domain":[3340,22500],"range":[853.1,117.3],"nice":false},"axis":null},
     "detail":{"field":"line","type":"nominal"}}},

  {"data":{"values":[{"level":10450}]},"mark":{"type":"rule","color":"#ff0000","strokeWidth":1.3},
   "encoding":{
     "y":{"field":"level","type":"quantitative","scale":{"type":"log","domain":[3340,22500],"range":[853.1,117.3],"nice":false},
          "axis":{"orient":"left","offset":-190,"values":[22440,20600,18950,17400,16000,14700,13500,12400,11400,10450,9600,8800,8050,7400,6800,6250,5750,5250,4800],
                  "labelExpr":"['114','96','81','66','53','40','29','18','9','0','-8','-16','-23','-29','-35','-40','-45','-50','-54'][indexof([22440,20600,18950,17400,16000,14700,13500,12400,11400,10450,9600,8800,8050,7400,6800,6250,5750,5250,4800], datum.value)]",
                  "grid":false,"ticks":false,"tickSize":0,"domain":false,"labelAlign":"left","labelPadding":48,"labelBaseline":"middle","labelFont":"Liberation Sans Narrow, Arial Narrow, DejaVu Sans Condensed, sans-serif","labelFontSize":15,"labelFontWeight":"bold","labelColor":"#ffffcc","labelOverlap":false,"labelBound":false,
                  "title":"%","titleAngle":0,"titleX":-37,"titleY":100,"titleAlign":"center","titleBaseline":"middle","titleFont":"Liberation Sans Narrow, Arial Narrow, DejaVu Sans Condensed, sans-serif","titleFontSize":14,"titleFontWeight":"bold","titleColor":"#ffffcc"}},
     "x":{"datum":0,"type":"quantitative","scale":{"type":"linear","domain":[0,3896],"range":[190,1855],"nice":false,"zero":false},"axis":null},
     "x2":{"datum":3910}}},

  {"data":{"values":[{"label":"15595"},{"label":"15529"},{"label":"15500"}]},"encoding":{"x":{"field":"label","type":"nominal","sort":null,"axis":null,"scale":{"type":"band","range":[553,819],"paddingInner":0.044,"paddingOuter":0}},"y":{"datum":"r","type":"nominal","axis":null,"scale":{"type":"band","range":[121,139],"paddingInner":0,"paddingOuter":0}}},"layer":[{"mark":{"type":"rect","fill":"#ffffff","stroke":"#909090"}},{"mark":{"type":"text","align":"left","dx":-40,"font":"Liberation Sans, Arial, sans-serif","fontStyle":"italic","fontWeight":"normal","fontSize":11},"encoding":{"text":{"field":"label"}}}]},
  {"data":{"values":[{"label":"0"}]},"encoding":{"x":{"field":"label","type":"nominal","axis":null,"scale":{"type":"band","range":[824,940],"paddingInner":0,"paddingOuter":0}},"y":{"datum":"r","type":"nominal","axis":null,"scale":{"type":"band","range":[121,139],"paddingInner":0,"paddingOuter":0}}},"layer":[{"mark":{"type":"rect","fill":"#ffffff","stroke":"#909090"}},{"mark":{"type":"text","align":"left","dx":-55,"font":"Liberation Sans, Arial, sans-serif","fontStyle":"italic","fontWeight":"normal","fontSize":11},"encoding":{"text":{"field":"label"}}}]},
  {"data":{"values":[{"label":"17286"}]},"encoding":{"x":{"field":"label","type":"nominal","axis":null,"scale":{"type":"band","range":[1731,1787],"paddingInner":0,"paddingOuter":0}},"y":{"datum":"r","type":"nominal","axis":null,"scale":{"type":"band","range":[207,228],"paddingInner":0,"paddingOuter":0}}},"layer":[{"mark":{"type":"rect","fill":"#c4ffff","stroke":"#909090"}},{"mark":{"type":"text","align":"left","dx":-25,"font":"Liberation Sans, Arial, sans-serif","fontWeight":"normal","fontSize":13},"encoding":{"text":{"field":"label"}}}]},
  {"data":{"values":[{"label":"8917"}]},"encoding":{"x":{"field":"label","type":"nominal","axis":null,"scale":{"type":"band","range":[1653,1741],"paddingInner":0,"paddingOuter":0}},"y":{"datum":"r","type":"nominal","axis":null,"scale":{"type":"band","range":[832,857],"paddingInner":0,"paddingOuter":0}}},"layer":[{"mark":{"type":"rect","fill":"#80ff80","stroke":"#c8c8c8"}},{"mark":{"type":"text","align":"left","dx":-40,"font":"Liberation Sans, Arial, sans-serif","fontSize":19,"color":"#0000ff"},"encoding":{"text":{"field":"label"}}}]},

  {"data":{"values":[{"label":"40"},{"label":"100"},{"label":"300"}]},"encoding":{"x":{"field":"label","type":"nominal","sort":null,"axis":null,"scale":{"type":"band","range":[5,201],"paddingInner":0.103,"paddingOuter":0}},"y":{"datum":"r","type":"nominal","axis":null,"scale":{"type":"band","range":[882,915],"paddingInner":0,"paddingOuter":0}}},"layer":[{"mark":{"type":"rect"}},{"mark":{"type":"text","fontSize":11,"fontWeight":"normal"},"encoding":{"text":{"field":"label"}}}]},
  {"data":{"values":[{"label":"+"}]},"encoding":{"x":{"field":"label","type":"nominal","axis":null,"scale":{"type":"band","range":[11,100],"paddingInner":0,"paddingOuter":0}},"y":{"datum":"r","type":"nominal","axis":null,"scale":{"type":"band","range":[920,954],"paddingInner":0,"paddingOuter":0}}},"layer":[{"mark":{"type":"rect"}},{"mark":{"type":"text","fontSize":16},"encoding":{"text":{"field":"label"}}}]},
  {"data":{"values":[{"label":"3441-/526"}]},"encoding":{"x":{"field":"label","type":"nominal","axis":null,"scale":{"type":"band","range":[107,254],"paddingInner":0,"paddingOuter":0}},"y":{"datum":"r","type":"nominal","axis":null,"scale":{"type":"band","range":[918,941],"paddingInner":0,"paddingOuter":0}}},"layer":[{"mark":{"type":"rect","fill":"#ffffff","stroke":"#808080"}},{"mark":{"type":"text","font":"Liberation Sans, Arial, sans-serif","fontSize":14},"encoding":{"text":{"field":"label"}}}]},
  {"data":{"values":[{"label":"s"}]},"encoding":{"x":{"field":"label","type":"nominal","axis":null,"scale":{"type":"band","range":[262,366],"paddingInner":0,"paddingOuter":0}},"y":{"datum":"r","type":"nominal","axis":null,"scale":{"type":"band","range":[918,941],"paddingInner":0,"paddingOuter":0}}},"mark":{"type":"rect","fill":"#ffffff","stroke":"#a0a0a0"}},
  {"data":{"values":[{"label":"◀"},{"label":"▶"}]},"encoding":{"x":{"field":"label","type":"nominal","sort":null,"axis":null,"scale":{"type":"band","range":[262,366],"paddingInner":0.805,"paddingOuter":0}},"y":{"datum":"r","type":"nominal","axis":null,"scale":{"type":"band","range":[918,941],"paddingInner":0,"paddingOuter":0}}},"layer":[{"mark":{"type":"rect"}},{"mark":{"type":"text","font":"DejaVu Sans, sans-serif","fontSize":7},"encoding":{"text":{"field":"label"}}}]},
  {"data":{"values":[{"label":"Mov"},{"label":"Macd"},{"label":"Stoch"},{"label":"Band"}]},"encoding":{"x":{"field":"label","type":"nominal","sort":null,"axis":null,"scale":{"type":"band","range":[391,947],"paddingInner":0.043,"paddingOuter":0}},"y":{"datum":"r","type":"nominal","axis":null,"scale":{"type":"band","range":[920,954],"paddingInner":0,"paddingOuter":0}}},"layer":[{"mark":{"type":"rect"}},{"mark":{"type":"text","fontSize":15},"encoding":{"text":{"field":"label"}}}]},
  {"data":{"values":[{"label":"P"},{"label":"F"}]},"encoding":{"x":{"field":"label","type":"nominal","sort":null,"axis":null,"scale":{"type":"band","range":[5,373],"paddingInner":0.773,"paddingOuter":0}},"y":{"datum":"r","type":"nominal","axis":null,"scale":{"type":"band","range":[959,993],"paddingInner":0,"paddingOuter":0}}},"layer":[{"mark":{"type":"rect"}},{"mark":{"type":"text","fontSize":15},"encoding":{"text":{"field":"label"}}}]},
  {"data":{"values":[{"label":"s"}]},"encoding":{"x":{"field":"label","type":"nominal","axis":null,"scale":{"type":"band","range":[80,298],"paddingInner":0,"paddingOuter":0}},"y":{"datum":"r","type":"nominal","axis":null,"scale":{"type":"band","range":[959,993],"paddingInner":0,"paddingOuter":0}}},"mark":{"type":"rect","fill":"#ffffff","stroke":"#a0a0a0"}},
  {"data":{"values":[{"label":"◀"},{"label":"▶"}]},"encoding":{"x":{"field":"label","type":"nominal","sort":null,"axis":null,"scale":{"type":"band","range":[80,298],"paddingInner":0.91,"paddingOuter":0}},"y":{"datum":"r","type":"nominal","axis":null,"scale":{"type":"band","range":[959,993],"paddingInner":0,"paddingOuter":0}}},"layer":[{"mark":{"type":"rect"}},{"mark":{"type":"text","font":"DejaVu Sans, sans-serif","fontSize":7},"encoding":{"text":{"field":"label"}}}]},
  {"data":{"values":[{"label":"s"}]},"encoding":{"x":{"field":"label","type":"nominal","axis":null,"scale":{"type":"band","range":[162,178],"paddingInner":0,"paddingOuter":0}},"y":{"datum":"r","type":"nominal","axis":null,"scale":{"type":"band","range":[959,993],"paddingInner":0,"paddingOuter":0}}},"mark":{"type":"rect","fill":"#e3e3e3","stroke":"#a0a0a0"}},
  {"data":{"values":[{"label":"Buy_Line"},{"label":"Sell_Line"}]},"encoding":{"x":{"field":"label","type":"nominal","sort":null,"axis":null,"scale":{"type":"band","range":[965,1300],"paddingInner":0.064,"paddingOuter":0}},"y":{"datum":"r","type":"nominal","axis":null,"scale":{"type":"band","range":[920,955],"paddingInner":0,"paddingOuter":0}}},"layer":[{"mark":{"type":"rect","strokeWidth":0}},{"mark":{"type":"text","align":"left","dx":-78,"fontSize":13},"encoding":{"text":{"field":"label"}}},{"mark":{"type":"point","shape":"square","filled":true,"fill":"#ffffff","stroke":"#808080","strokeWidth":1,"opacity":1,"size":144},"encoding":{"x":{"field":"label","type":"nominal","sort":null,"axis":null,"bandPosition":0.96,"scale":{"type":"band","range":[965,1300],"paddingInner":0.064,"paddingOuter":0}}}}]},
  {"data":{"values":[{"label":"Buy_Stop"},{"label":"Sell_Stop"}]},"encoding":{"x":{"field":"label","type":"nominal","sort":null,"axis":null,"scale":{"type":"band","range":[965,1300],"paddingInner":0.064,"paddingOuter":0}},"y":{"datum":"r","type":"nominal","axis":null,"scale":{"type":"band","range":[959,994],"paddingInner":0,"paddingOuter":0}}},"layer":[{"mark":{"type":"rect","strokeWidth":0}},{"mark":{"type":"text","align":"left","dx":-78,"fontSize":13},"encoding":{"text":{"field":"label"}}},{"mark":{"type":"point","shape":"square","filled":true,"fill":"#ffffff","stroke":"#808080","strokeWidth":1,"opacity":1,"size":144},"encoding":{"x":{"field":"label","type":"nominal","sort":null,"axis":null,"bandPosition":0.96,"scale":{"type":"band","range":[965,1300],"paddingInner":0.064,"paddingOuter":0}}}}]},
  {"data":{"values":[{"label":"PRNT"}]},"encoding":{"x":{"field":"label","type":"nominal","axis":null,"scale":{"type":"band","range":[1660,1703],"paddingInner":0,"paddingOuter":0}},"y":{"datum":"r","type":"nominal","axis":null,"scale":{"type":"band","range":[920,954],"paddingInner":0,"paddingOuter":0}}},"layer":[{"mark":{"type":"rect"}},{"mark":{"type":"text","fontSize":12},"encoding":{"text":{"field":"label"}}}]},
  {"data":{"values":[{"label":"382 -/ 32"}]},"encoding":{"x":{"field":"label","type":"nominal","axis":null,"scale":{"type":"band","range":[1708,1857],"paddingInner":0,"paddingOuter":0}},"y":{"datum":"r","type":"nominal","axis":null,"scale":{"type":"band","range":[918,941],"paddingInner":0,"paddingOuter":0}}},"layer":[{"mark":{"type":"rect","fill":"#ffffff","stroke":"#808080"}},{"mark":{"type":"text","font":"Liberation Sans, Arial, sans-serif","fontWeight":"normal","fontSize":12},"encoding":{"text":{"field":"label"}}}]},
  {"data":{"values":[{"label":"Exit"},{"label":"Opti"}]},"encoding":{"x":{"datum":"c","type":"nominal","axis":null,"scale":{"type":"band","range":[1871,1914],"paddingInner":0,"paddingOuter":0}},"y":{"field":"label","type":"nominal","sort":null,"axis":null,"scale":{"type":"band","range":[879,955],"paddingInner":0.146,"paddingOuter":0}}},"layer":[{"mark":{"type":"rect"}},{"mark":{"type":"text","fontSize":16},"encoding":{"text":{"field":"label"}}}]},
  {"data":{"values":[{"label":"s"}]},"encoding":{"x":{"field":"label","type":"nominal","axis":null,"scale":{"type":"band","range":[1652,1869],"paddingInner":0,"paddingOuter":0}},"y":{"datum":"r","type":"nominal","axis":null,"scale":{"type":"band","range":[959,993],"paddingInner":0,"paddingOuter":0}}},"mark":{"type":"rect","fill":"#ffffff","stroke":"#a0a0a0"}},
  {"data":{"values":[{"label":"◀"},{"label":"▶"}]},"encoding":{"x":{"field":"label","type":"nominal","sort":null,"axis":null,"scale":{"type":"band","range":[1652,1869],"paddingInner":0.9095,"paddingOuter":0}},"y":{"datum":"r","type":"nominal","axis":null,"scale":{"type":"band","range":[959,993],"paddingInner":0,"paddingOuter":0}}},"layer":[{"mark":{"type":"rect"}},{"mark":{"type":"text","font":"DejaVu Sans, sans-serif","fontSize":7},"encoding":{"text":{"field":"label"}}}]},
  {"data":{"values":[{"label":"s"}]},"encoding":{"x":{"field":"label","type":"nominal","axis":null,"scale":{"type":"band","range":[1830,1852],"paddingInner":0,"paddingOuter":0}},"y":{"datum":"r","type":"nominal","axis":null,"scale":{"type":"band","range":[959,993],"paddingInner":0,"paddingOuter":0}}},"mark":{"type":"rect","fill":"#f0f0f0","stroke":"#a0a0a0"}},
  {"data":{"values":[{"label":"a"},{"label":"b"}]},"encoding":{"x":{"field":"label","type":"nominal","sort":null,"axis":null,"scale":{"type":"band","range":[1874,1904],"paddingInner":0.333,"paddingOuter":0}},"y":{"datum":"r","type":"nominal","axis":null,"scale":{"type":"band","range":[958,971],"paddingInner":0,"paddingOuter":0}}},"mark":{"type":"rect","fill":"#ffffff","stroke":"#808080"}}
]
}
